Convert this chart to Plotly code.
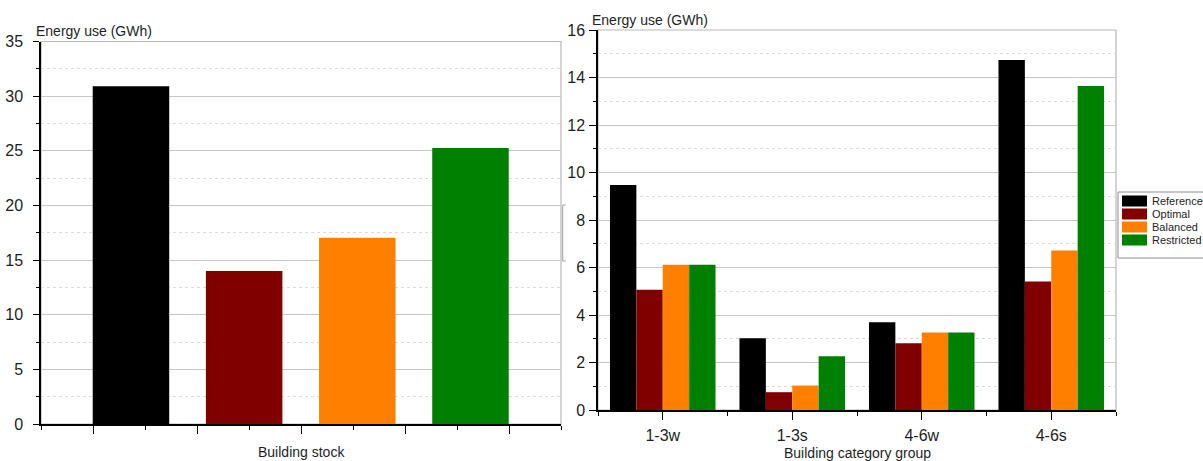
import plotly.graph_objects as go

# ---- data -------------------------------------------------------------
scenarios = ["Reference", "Optimal", "Balanced", "Restricted"]
colors = ["#000000", "#800000", "#FF8000", "#008000"]

stock_energy = [30.9, 14.0, 17.05, 25.25]          # whole building stock, GWh

groups = ["1-3w", "1-3s", "4-6w", "4-6s"]
group_energy = {
    "Reference":  [9.47, 3.02, 3.69, 14.74],
    "Optimal":    [5.06, 0.75, 2.81, 5.41],
    "Balanced":   [6.12, 1.03, 3.26, 6.72],
    "Restricted": [6.12, 2.26, 3.26, 13.64],
}

# ---- page geometry (pixels) -------------------------------------------
W, H = 1203, 461
L_X0, L_X1, L_TOP, L_BOT = 41, 561, 41.5, 424
R_X0, R_X1, R_TOP, R_BOT = 598, 1116, 30, 410


def px(x):
    return x / W


def py(y):
    return 1 - y / H


FONT = "Liberation Sans, Arial, sans-serif"
TXT = "#1e1e1e"
GRID = "#c6c6c6"
MINOR_GRID = "#dadada"

fig = go.Figure()

# left panel: total energy use of the stock per scenario
fig.add_trace(go.Bar(
    x=scenarios, y=stock_energy, marker=dict(color=colors, line=dict(width=0)),
    width=0.676, xaxis="x", yaxis="y", showlegend=False,
))

# right panel: energy use per building category group
for name, col in zip(scenarios, colors):
    fig.add_trace(go.Bar(
        x=groups, y=group_energy[name], name=name,
        marker=dict(color=col, line=dict(width=0)),
        xaxis="x2", yaxis="y2", showlegend=False,
    ))

# empty traces so the tick-only overlay axes get drawn
for xa, ya in (("x3", "y"), ("x4", "y2")):
    fig.add_trace(go.Scatter(x=[None], y=[None], xaxis=xa, yaxis=ya,
                             mode="markers", showlegend=False,
                             hoverinfo="skip"))


def yaxis_style(rng, dtick, domain, anchor):
    return dict(
        domain=domain, anchor=anchor, range=rng, dtick=dtick,
        automargin=False,
        showline=True, linecolor="black", linewidth=1.5,
        ticks="outside", ticklen=6, tickwidth=1.3, tickcolor="black",
        tickfont=dict(family=FONT, size=16, color=TXT),
        showgrid=True, gridcolor=GRID, gridwidth=1, zeroline=False,
        minor=dict(dtick=dtick / 2, ticks="outside", ticklen=3, tickwidth=1.2,
                   tickcolor="black", showgrid=True, gridcolor=MINOR_GRID,
                   griddash="dot", gridwidth=1),
    )


left_y = yaxis_style([0, 35], 5, [py(L_BOT), py(L_TOP)], "x")
left_y["ticklabelstandoff"] = 7
right_y = yaxis_style([0, 16], 2, [py(R_BOT), py(R_TOP)], "x2")
right_y["ticklabelstandoff"] = 1
right_y["ticklen"] = 7

tick_axis = dict(
    automargin=False,
    showline=True, linecolor="black", linewidth=1.5,
    ticks="outside", ticklen=8, tickwidth=1.3, tickcolor="black",
    showticklabels=False, showgrid=False, zeroline=False,
    minor=dict(ticks="outside", ticklen=4, tickwidth=1.2,
               tickcolor="black", showgrid=False),
)

fig.update_layout(
    width=W, height=H,
    margin=dict(l=0, r=0, t=0, b=0, autoexpand=False),
    paper_bgcolor="white", plot_bgcolor="white",
    bargap=0.185, bargroupgap=0,
    barmode="group",
    xaxis=dict(domain=[px(L_X0), px(L_X1)], anchor="y", type="category",
               range=[-0.795, 3.80], showticklabels=False, ticks="",
               showline=False, showgrid=False, zeroline=False,
               automargin=False),
    xaxis3=dict(tick_axis, overlaying="x", anchor="y", side="bottom",
                range=[0, 10], tick0=1, dtick=2,
                minor=dict(tick_axis["minor"], dtick=1, tick0=0)),
    yaxis=left_y,
    xaxis2=dict(domain=[px(R_X0), px(R_X1)], anchor="y2", type="category",
                range=[-0.5, 3.5], ticks="", showline=False, showgrid=False,
                zeroline=False, ticklabelstandoff=14, automargin=False,
                tickfont=dict(family=FONT, size=16, color=TXT)),
    xaxis4=dict(tick_axis, overlaying="x2", anchor="y2", side="bottom",
                range=[-0.5, 3.5], tick0=0, dtick=1,
                minor=dict(tick_axis["minor"], dtick=0.5, tick0=-0.5)),
    yaxis2=right_y,
)

# light frame on the top and right of each plot area
for xr, yr in (("x domain", "y domain"), ("x2 domain", "y2 domain")):
    fig.add_shape(type="rect", xref=xr, yref=yr, x0=0, x1=1, y0=0, y1=1,
                  line=dict(color="#b8b8b8", width=1.2), layer="below")

# small bracket mark between the panels
bx, by0, by1 = 562.7, 205, 261
fig.add_shape(
    type="path", xref="paper", yref="paper",
    path=(f"M {px(bx + 3)},{py(by0)} L {px(bx)},{py(by0)} "
          f"L {px(bx)},{py(by1)} L {px(bx + 3)},{py(by1)}"),
    line=dict(color="#a0a0a0", width=1),
)

# axis titles
notes = [
    ("Energy use (GWh)", 34, 31, "left", 14),
    ("Energy use (GWh)", 590, 19.5, "left", 14),
    ("Building stock", 301, 452, "center", 14),
    ("Building category group", 857, 453, "center", 14),
]
for text, x, y, anchor, size in notes:
    fig.add_annotation(text=text, x=px(x), y=py(y), xref="paper", yref="paper",
                       xanchor=anchor, yanchor="middle", showarrow=False,
                       font=dict(family=FONT, size=size, color=TXT))

# legend box with wide colour swatches
fig.add_shape(type="rect", xref="paper", yref="paper",
              x0=px(1118), x1=px(1212), y0=py(258), y1=py(192),
              line=dict(color="#8c8c8c", width=1), fillcolor="white")
for i, (name, col) in enumerate(zip(scenarios, colors)):
    top = 195.5 + i * 13
    fig.add_shape(type="rect", xref="paper", yref="paper",
                  x0=px(1122), x1=px(1147), y0=py(top + 11), y1=py(top),
                  line=dict(width=0), fillcolor=col)
    fig.add_annotation(text=name, x=px(1150), y=py(top + 5.5),
                       xref="paper", yref="paper", xanchor="left",
                       yanchor="middle", showarrow=False,
                       font=dict(family=FONT, size=11, color=TXT))

fig.write_html("out.html")
